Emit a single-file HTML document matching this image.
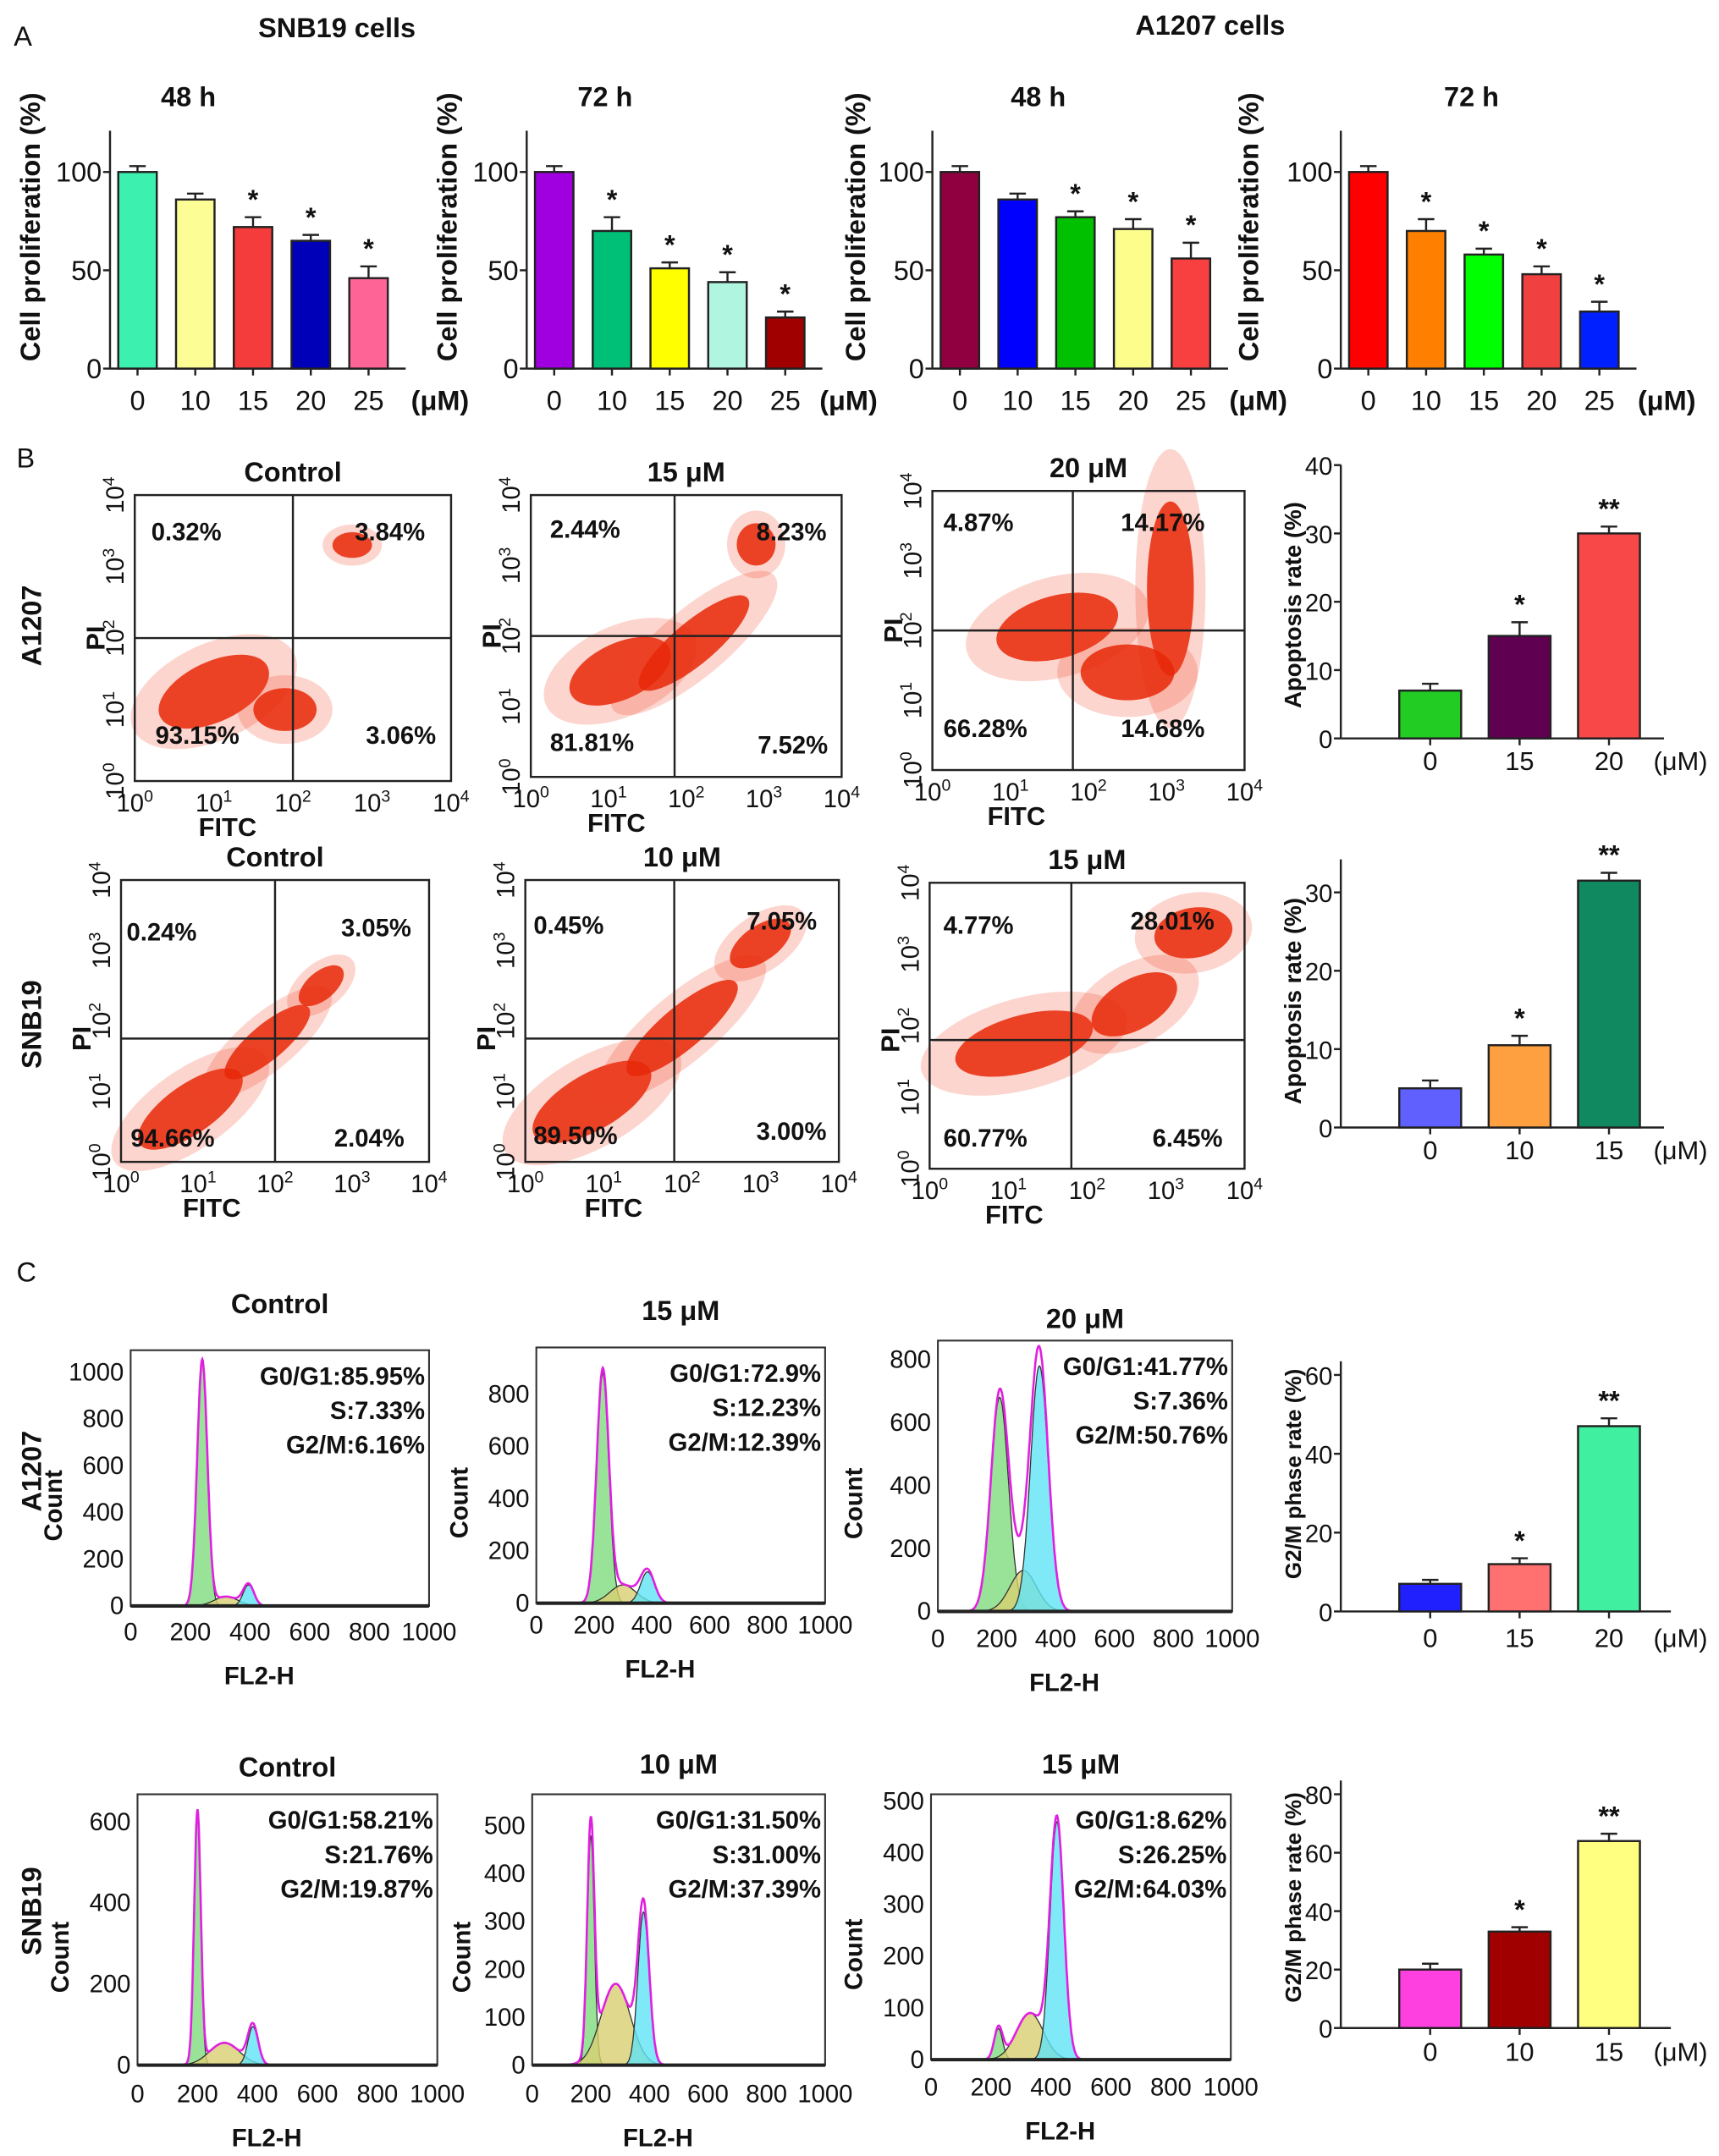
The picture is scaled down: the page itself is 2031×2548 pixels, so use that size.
<!DOCTYPE html>
<html><head><meta charset="utf-8"><style>
html,body{margin:0;padding:0;background:#fff}
svg{display:block}
text{font-family:"Liberation Sans",sans-serif;fill:#111}
</style></head><body>
<svg id="fig" xmlns="http://www.w3.org/2000/svg" width="2031" height="2548" viewBox="0 0 1250 1568">
<rect x="0" y="0" width="1250" height="1568" fill="#fff"/>
</svg>
<script>
// ---------- Panel A data ----------
const doseA = ["0","10","15","20","25"];
const snb48Vals = [100,86,72,65,46];
const snb48Errs = [3,3,5,3,6];
const snb72Vals = [100,70,51,44,26];
const snb72Errs = [3,7,3,5,3];
const a48Vals = [100,86,77,71,56];
const a48Errs = [3,3,3,5,8];
const a72Vals = [100,70,58,48,29];
const a72Errs = [3,6,3,4,5];
const sigA = ["","","*","*","*"];
const sigA2 = ["","*","*","*","*"];
const ticksA = [0,50,100];
// ---------- Panel B bar data ----------
const doseB1 = ["0","15","20"];
const apoA1207Vals = [7,15,30];
const apoA1207Errs = [1,2,1];
const doseB2 = ["0","10","15"];
const apoSnbVals = [5,10.5,31.5];
const apoSnbErrs = [1,1.2,1];
const sigB = ["","*","**"];
const ticksB1 = [0,10,20,30,40];
const ticksB2 = [0,10,20,30];
// ---------- Panel C bar data ----------
const g2mA1207Vals = [7,12,47];
const g2mA1207Errs = [1,1.5,2];
const g2mSnbVals = [20,33,64];
const g2mSnbErrs = [2,1.5,2.5];
const ticksC1 = [0,20,40,60];
const ticksC2 = [0,20,40,60,80];
// ---------- Histogram peak data: [G1pos,G1height,G1sd, Spos,Sheight,Ssd, G2pos,G2height,G2sd] ----------
const histA1207Ctrl = [240,1050,17, 320,40,40, 395,90,18];
const histA1207_15 = [230,880,21, 300,70,45, 385,120,24];
const histA1207_20 = [210,680,30, 290,130,45, 345,780,30];
const histSnbCtrl = [200,620,11, 290,55,50, 385,95,17];
const histSnb10 = [200,480,12, 285,170,50, 380,320,19];
const histSnb15 = [225,60,14, 330,90,45, 420,460,23];
const histTicksX = [0,200,400,600,800,1000];
// ---------- Scatter cluster data: [x(log),y(log),rx,ry,angle] ----------
const scA1207Ctrl = [[1.0,1.25,0.75,0.42,-25],[2.75,3.3,0.25,0.18,0],[1.9,1.0,0.4,0.3,0]];
const scA1207_15 = [[1.15,1.5,0.7,0.4,-25],[2.1,1.9,0.9,0.3,-40],[2.9,3.3,0.25,0.3,0]];
const scA1207_20 = [[1.6,2.05,0.8,0.45,-15],[3.05,2.6,0.3,1.25,0],[2.5,1.4,0.6,0.4,0]];
const scSnbCtrl = [[0.9,0.75,0.8,0.35,-35],[1.9,1.7,0.7,0.25,-40],[2.6,2.5,0.35,0.2,-40]];
const scSnb10 = [[0.85,0.85,0.85,0.4,-30],[2.0,1.9,0.9,0.3,-40],[3.0,3.1,0.45,0.25,-35]];
const scSnb15 = [[1.2,1.75,0.9,0.4,-15],[2.6,2.3,0.6,0.35,-30],[3.35,3.3,0.5,0.35,-10]];
const logTicks = [0,1,2,3,4];

const svg = document.getElementById('fig');
const NS = 'http://www.w3.org/2000/svg';
function mk(tag, name, attrs){
  const el = document.createElementNS(NS, tag);
  
  
  for (const k in attrs) el.setAttribute(k, attrs[k]);
  svg.appendChild(el);
  return el;
}
function T(x,y,s,name,o){
  o=o||{};
  const a={x:x,y:y,'font-size':o.fs||19,'text-anchor':o.anchor||'start'};
  if(o.bold) a['font-weight']='bold';
  if(o.rot!==undefined) a.transform='rotate('+o.rot+' '+x+' '+y+')';
  const el=mk('text',name,a);
  el.textContent=s;
  return el;
}
function L(x1,y1,x2,y2,name,w,c){ return mk('line',name,{x1:x1,y1:y1,x2:x2,y2:y2,stroke:c||'#222','stroke-width':w||1.5}); }

function barChart(c){
  const y=v=>c.base - v*c.ppu;
  L(c.ax,c.top,c.ax,c.base,c.id+'-y-axis',1.5);
  L(c.ax,c.base,c.ax+c.len,c.base,c.id+'-x-axis',1.5);
  c.ticks.forEach(t=>{
    L(c.ax-5,y(t),c.ax,y(t),c.id+'-y-tick',1.5);
    T(c.ax-6,y(t)+7,String(t),c.id+'-y-tick-label',{anchor:'end',fs:c.tfs||20});
  });
  c.cats.forEach((cat,i)=>{
    const cx=c.ax+c.off+i*c.step, v=c.vals[i], e=c.errs[i];
    mk('rect',c.id+'-bar-'+cat,{x:cx-c.bw/2,y:y(v),width:c.bw,height:v*c.ppu,fill:c.colors[i],stroke:'#222','stroke-width':1.5});
    L(cx,y(v),cx,y(v+e),c.id+'-error-bar',1.5);
    L(cx-6,y(v+e),cx+6,y(v+e),c.id+'-error-cap',1.5);
    L(cx,c.base,cx,c.base+5,c.id+'-x-tick',1.5);
    T(cx,c.base+c.xlo,cat,c.id+'-x-tick-label',{anchor:'middle',fs:c.xfs||20});
    if(c.sig[i]) T(cx,y(v+e)-6,c.sig[i],c.id+'-significance',{anchor:'middle',fs:20,bold:true});
  });
  T(c.unitX,c.base+c.xlo,c.unit,c.id+'-unit-label',{anchor:'middle',fs:c.xfs||20,bold:!!c.ubold});
  T(c.ylX,c.ylY,c.ylabel,c.id+'-y-axis-title',{anchor:'middle',fs:c.yfs||20,bold:true,rot:-90});
  if(c.title) T(c.titleX,c.titleY,c.title,c.id+'-title',{anchor:'middle',fs:20,bold:true});
}

// ===== Panel A =====
T(10,33,'A','panel-a-label',{fs:20});
T(245,27,'SNB19 cells','snb19-cells-heading',{anchor:'middle',fs:20,bold:true});
T(880,25,'A1207 cells','a1207-cells-heading',{anchor:'middle',fs:20,bold:true});
const colA = [
 ['#3cf0b0','#fdfd96','#f43c3c','#0000b8','#ff6496'],
 ['#a000e0','#00c078','#ffff00','#b0f5e0','#a00000'],
 ['#900040','#0000ff','#00c000','#fdfd8c','#f84040'],
 ['#ff0000','#ff8000','#00ff00','#f04040','#0020ff']];
const aPanels=[['snb19-48h',80,snb48Vals,snb48Errs,sigA,'48 h',137,320,22],
 ['snb19-72h',383,snb72Vals,snb72Errs,sigA2,'72 h',440,617,325],
 ['a1207-48h',678,a48Vals,a48Errs,sigA,'48 h',755,915,622],
 ['a1207-72h',975,a72Vals,a72Errs,sigA2,'72 h',1070,1212,908]];
aPanels.forEach((p,k)=>{
  barChart({id:p[0],ax:p[1],top:95,base:268,ppu:1.43,len:215,off:20,step:42,bw:28,
    cats:doseA,vals:p[2],errs:p[3],colors:colA[k],sig:p[4],ticks:ticksA,xlo:30,
    unit:'(μM)',unitX:p[7],ubold:true,ylabel:'Cell  proliferation  (%)',ylX:p[8]+7,ylY:165,
    title:p[5],titleX:p[6],titleY:77,yfs:20});
});

// ===== Panel B scatter =====
T(12,340,'B','panel-b-label',{fs:20});
function scatter(s){
  const X=v=>s.x0+(s.x1-s.x0)*v/4, Y=v=>s.y1-(s.y1-s.y0)*v/4;
  s.clusters.forEach(c=>{
    const cx=X(c[0]),cy=Y(c[1]),rx=(s.x1-s.x0)*c[2]/4,ry=(s.y1-s.y0)*c[3]/4;
    mk('ellipse',s.id+'-cluster-halo',{cx:cx,cy:cy,rx:rx*1.5,ry:ry*1.6,fill:'#f04020','fill-opacity':0.22,transform:'rotate('+c[4]+' '+cx+' '+cy+')'});
    mk('ellipse',s.id+'-cluster',{cx:cx,cy:cy,rx:rx,ry:ry,fill:'#e82808','fill-opacity':0.85,transform:'rotate('+c[4]+' '+cx+' '+cy+')'});
  });
  mk('rect',s.id+'-frame',{x:s.x0,y:s.y0,width:s.x1-s.x0,height:s.y1-s.y0,fill:'none',stroke:'#222','stroke-width':1.5});
  L(X(s.qx),s.y0,X(s.qx),s.y1,s.id+'-quadrant-v',1.5);
  L(s.x0,Y(s.qy),s.x1,Y(s.qy),s.id+'-quadrant-h',1.5);
  logTicks.forEach(t=>{
    const tx=X(t);
    const el=T(tx,s.y1+22,'10',s.id+'-x-tick-label',{anchor:'middle',fs:18});
    const sp=document.createElementNS(NS,'tspan'); sp.setAttribute('dy','-7'); sp.setAttribute('font-size','12'); sp.textContent=String(t); el.appendChild(sp);
    const ty=Y(t);
    const el2=T(s.x0-8,ty,'10',s.id+'-y-tick-label',{anchor:'middle',fs:18,rot:-90});
    const sp2=document.createElementNS(NS,'tspan'); sp2.setAttribute('dy','-7'); sp2.setAttribute('font-size','12'); sp2.textContent=String(t); el2.appendChild(sp2);
  });
  T((s.x0+X(s.qx))/2+10,s.y1+40,'FITC',s.id+'-x-axis-title',{anchor:'middle',fs:19,bold:true});
  T(s.x0-22,Y(s.qy),'PI',s.id+'-y-axis-title',{anchor:'middle',fs:19,bold:true,rot:-90});
  T((s.x0+s.x1)/2,s.y0-10,s.title,s.id+'-title',{anchor:'middle',fs:20,bold:true});
  s.labels.forEach(l=>T(l[1],l[2],l[0],s.id+'-quadrant-percent',{fs:18,bold:true}));
}
scatter({id:'a1207-control',x0:98,x1:328,y0:360,y1:568,qx:2,qy:2,title:'Control',clusters:scA1207Ctrl,
  labels:[['0.32%',110,393],['3.84%',258,393],['93.15%',113,541],['3.06%',266,541]]});
scatter({id:'a1207-15um',x0:386,x1:612,y0:360,y1:565,qx:1.85,qy:2,title:'15 μM',clusters:scA1207_15,
  labels:[['2.44%',400,391],['8.23%',550,393],['81.81%',400,546],['7.52%',551,548]]});
scatter({id:'a1207-20um',x0:678,x1:905,y0:357,y1:560,qx:1.8,qy:2,title:'20 μM',clusters:scA1207_20,
  labels:[['4.87%',686,386],['14.17%',815,386],['66.28%',686,536],['14.68%',815,536]]});
scatter({id:'snb19-control',x0:88,x1:312,y0:640,y1:845,qx:2,qy:1.75,title:'Control',clusters:scSnbCtrl,
  labels:[['0.24%',92,684],['3.05%',248,681],['94.66%',95,834],['2.04%',243,834]]});
scatter({id:'snb19-10um',x0:382,x1:610,y0:640,y1:845,qx:1.9,qy:1.75,title:'10 μM',clusters:scSnb10,
  labels:[['0.45%',388,679],['7.05%',543,676],['89.50%',388,832],['3.00%',550,829]]});
scatter({id:'snb19-15um',x0:676,x1:905,y0:642,y1:850,qx:1.8,qy:1.8,title:'15 μM',clusters:scSnb15,
  labels:[['4.77%',686,679],['28.01%',822,676],['60.77%',686,834],['6.45%',838,834]]});
T(30,455,'A1207','row-a1207-label-b',{anchor:'middle',fs:20,bold:true,rot:-90});
T(30,745,'SNB19','row-snb19-label-b',{anchor:'middle',fs:20,bold:true,rot:-90});

barChart({id:'apoptosis-a1207',ax:975,top:338,base:537,ppu:4.97,len:235,off:65,step:65,bw:45,
  cats:doseB1,vals:apoA1207Vals,errs:apoA1207Errs,colors:['#22cc22','#600050','#f84848'],sig:sigB,ticks:ticksB1,xlo:23,
  unit:'(μM)',unitX:1222,ylabel:'Apoptosis  rate (%)',ylX:946,ylY:440,yfs:17,xfs:19,tfs:18});
barChart({id:'apoptosis-snb19',ax:975,top:625,base:820,ppu:5.7,len:235,off:65,step:65,bw:45,
  cats:doseB2,vals:apoSnbVals,errs:apoSnbErrs,colors:['#6060ff','#ffa040','#108860'],sig:sigB,ticks:ticksB2,xlo:23,
  unit:'(μM)',unitX:1222,ylabel:'Apoptosis  rate (%)',ylX:946,ylY:728,yfs:17,xfs:19,tfs:18});

// ===== Panel C histograms =====
T(12,932,'C','panel-c-label',{fs:20});
function gauss(x,m,h,s){return h*Math.exp(-0.5*((x-m)/s)*((x-m)/s));}
function hist(h){
  const X=v=>h.x0+(h.x1-h.x0)*v/1000, Y=v=>h.base-v*h.ppu;
  const p=h.peaks;
  const comps=[[p[0],p[1],p[2],'#7fdc7f','g1-peak'],[p[3],p[4],p[5],'#d8d070','s-phase'],[p[6],p[7],p[8],'#5fe3f5','g2m-peak']];
  comps.forEach(c=>{
    let d='M'+X(c[0]-4*c[2])+' '+Y(0);
    for(let x=c[0]-4*c[2];x<=c[0]+4*c[2];x+=2) d+=' L'+X(x).toFixed(1)+' '+Y(gauss(x,c[0],c[1],c[2])).toFixed(1);
    d+=' L'+X(c[0]+4*c[2])+' '+Y(0)+' Z';
    mk('path',h.id+'-'+c[4],{d:d,fill:c[3],'fill-opacity':0.8,stroke:'#333','stroke-width':0.8});
  });
  let d='';
  for(let x=60;x<=1000;x+=2){
    const v=comps.reduce((a,c)=>a+gauss(x,c[0],c[1],c[2]),0);
    d+=(d?' L':'M')+X(x).toFixed(1)+' '+Y(v).toFixed(1);
  }
  mk('path',h.id+'-envelope',{d:d,fill:'none',stroke:'#e020e0','stroke-width':1.6});
  mk('rect',h.id+'-frame',{x:h.x0,y:h.y0,width:h.x1-h.x0,height:h.base-h.y0,fill:'none',stroke:'#333','stroke-width':1.3});
  L(h.x0,h.base,h.x1,h.base,h.id+'-x-axis',2.5);
  histTicksX.forEach(t=>T(X(t),h.base+h.xlo,String(t),h.id+'-x-tick-label',{anchor:'middle',fs:18}));
  h.yt.forEach(t=>T(h.x0-5,Y(t)+6,String(t),h.id+'-y-tick-label',{anchor:'end',fs:18}));
  T((h.x0+h.x1)/2-15,h.base+h.xlo+32,'FL2-H',h.id+'-x-axis-title',{anchor:'middle',fs:18,bold:true});
  T(h.x0-h.cl,(h.y0+h.base)/2+20,'Count',h.id+'-y-axis-title',{anchor:'middle',fs:18,bold:true,rot:-90});
  T((h.x0+h.x1)/2,h.titleY,h.title,h.id+'-title',{anchor:'middle',fs:20,bold:true});
  h.lines.forEach((s,i)=>T(h.x1-3,h.y0+25+i*25,s,h.id+'-phase-percent',{anchor:'end',fs:18,bold:true}));
}
hist({id:'a1207-control-hist',x0:95,x1:312,y0:982,base:1168,ppu:0.17,peaks:histA1207Ctrl,yt:[0,200,400,600,800,1000],xlo:25,cl:50,title:'Control',titleY:955,
  lines:['G0/G1:85.95%','S:7.33%','G2/M:6.16%']});
hist({id:'a1207-15um-hist',x0:390,x1:600,y0:980,base:1166,ppu:0.19,peaks:histA1207_15,yt:[0,200,400,600,800],xlo:22,cl:50,title:'15 μM',titleY:960,
  lines:['G0/G1:72.9%','S:12.23%','G2/M:12.39%']});
hist({id:'a1207-20um-hist',x0:682,x1:896,y0:975,base:1172,ppu:0.229,peaks:histA1207_20,yt:[0,200,400,600,800],xlo:26,cl:55,title:'20 μM',titleY:966,
  lines:['G0/G1:41.77%','S:7.36%','G2/M:50.76%']});
hist({id:'snb19-control-hist',x0:100,x1:318,y0:1305,base:1502,ppu:0.295,peaks:histSnbCtrl,yt:[0,200,400,600],xlo:27,cl:50,title:'Control',titleY:1292,
  lines:['G0/G1:58.21%','S:21.76%','G2/M:19.87%']});
hist({id:'snb19-10um-hist',x0:387,x1:600,y0:1305,base:1502,ppu:0.348,peaks:histSnb10,yt:[0,100,200,300,400,500],xlo:27,cl:45,title:'10 μM',titleY:1290,
  lines:['G0/G1:31.50%','S:31.00%','G2/M:37.39%']});
hist({id:'snb19-15um-hist',x0:677,x1:895,y0:1305,base:1498,ppu:0.376,peaks:histSnb15,yt:[0,100,200,300,400,500],xlo:26,cl:50,title:'15 μM',titleY:1290,
  lines:['G0/G1:8.62%','S:26.25%','G2/M:64.03%']});
T(30,1070,'A1207','row-a1207-label-c',{anchor:'middle',fs:20,bold:true,rot:-90});
T(30,1390,'SNB19','row-snb19-label-c',{anchor:'middle',fs:20,bold:true,rot:-90});

barChart({id:'g2m-a1207',ax:975,top:990,base:1172,ppu:2.867,len:240,off:65,step:65,bw:45,
  cats:doseB1,vals:g2mA1207Vals,errs:g2mA1207Errs,colors:['#2020ff','#ff7070','#40f0a0'],sig:sigB,ticks:ticksC1,xlo:26,
  unit:'(μM)',unitX:1222,ylabel:'G2/M phase rate (%)',ylX:946,ylY:1072,yfs:16,xfs:19,tfs:18});
barChart({id:'g2m-snb19',ax:975,top:1295,base:1475,ppu:2.125,len:240,off:65,step:65,bw:45,
  cats:doseB2,vals:g2mSnbVals,errs:g2mSnbErrs,colors:['#ff40e0','#a00000','#ffff80'],sig:sigB,ticks:ticksC2,xlo:24,
  unit:'(μM)',unitX:1222,ylabel:'G2/M phase rate (%)',ylX:946,ylY:1380,yfs:16,xfs:19,tfs:18});
</script>
</body></html>
